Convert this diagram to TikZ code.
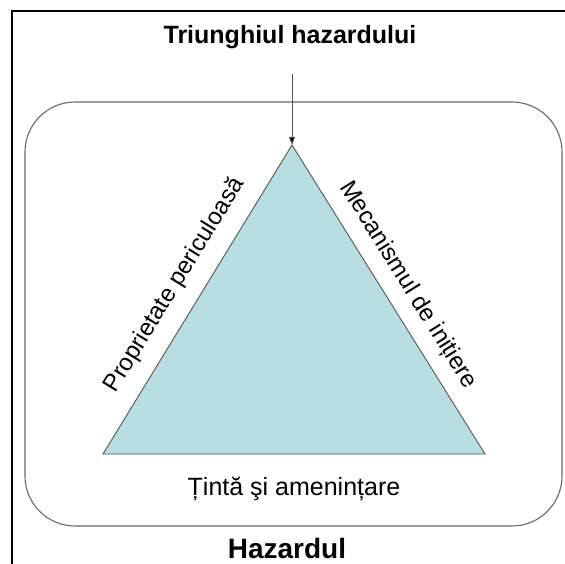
\documentclass[tikz,border=0pt]{standalone}
\usepackage{fontspec}
\setmainfont{Liberation Sans}
\usetikzlibrary{arrows.meta}
\definecolor{trifill}{RGB}{184,222,226}
\definecolor{edgegray}{RGB}{85,85,85}
\definecolor{boxgray}{RGB}{105,105,105}
\tikzset{
  titletext/.style={font=\bfseries\fontsize{25}{30}\selectfont, inner sep=0pt},
  sidetext/.style={font=\fontsize{24}{29}\selectfont, inner sep=0pt},
  framebox/.style={draw=boxgray, line width=1.1pt, rounded corners=50pt},
  tri/.style={draw=edgegray, line width=0.9pt, fill=trifill, line join=miter},
  pointer/.style={draw=edgegray, line width=0.9pt, -{Triangle[length=8pt,width=6pt,fill=black]}},
}
\begin{document}
\begin{tikzpicture}[x=1pt,y=-1pt]
\useasboundingbox (0,0) rectangle (564,564);
\fill[white] (0,0) rectangle (564,564);
% outer border (right and bottom lie outside the picture)
\draw[line width=2pt, line cap=rect] (12,566) -- (12,11) -- (566,11);
% rounded frame
\draw[framebox] (25,102) rectangle (562,526);
% triangle
\coordinate (A) at (292,145);
\coordinate (B) at (103,454);
\coordinate (C) at (485,454);
\draw[tri] (A) -- (B) -- (C) -- cycle;
% title and arrow
\node[titletext] (title) at (290,37) {Triunghiul hazardului};
\coordinate (arrowstart) at (292,74);
\draw[pointer] (arrowstart) -- (A);
% side labels
\node[sidetext, rotate=58.5] (left) at (175,285) {Proprietate periculoasă};
\node[sidetext, rotate=-58] (right) at (408,285) {Mecanismul de inițiere};
\node[sidetext, font=\fontsize{25}{30}\selectfont] (bottom) at (294,489) {Țintă şi amenințare};
% bottom title
\node[titletext, font=\bfseries\fontsize{28}{33}\selectfont] (haz) at (287,548) {Hazardul};
\end{tikzpicture}
\end{document}
